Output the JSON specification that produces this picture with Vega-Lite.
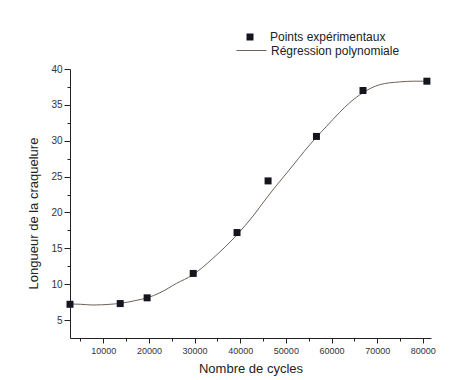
{
  "$schema": "https://vega.github.io/schema/vega-lite/v6.json",
  "width": 361,
  "height": 269,
  "autosize": {"type": "none"},
  "padding": {"left": 70, "top": 69, "right": 22, "bottom": 42},
  "background": "white",
  "config": {
    "view": {"stroke": null},
    "font": "Liberation Sans",
    "axis": {"domainColor": "#222", "tickColor": "#222", "grid": false, "labelColor": "#333", "titleColor": "#222", "titleFontWeight": "normal", "labelFont": "Liberation Sans", "titleFont": "Liberation Sans"}
  },
  "datasets": {
    "points": [
      {"cycles": 2700, "longueur": 7.2, "serie": "Points expérimentaux"},
      {"cycles": 13700, "longueur": 7.3, "serie": "Points expérimentaux"},
      {"cycles": 19600, "longueur": 8.1, "serie": "Points expérimentaux"},
      {"cycles": 29700, "longueur": 11.5, "serie": "Points expérimentaux"},
      {"cycles": 39300, "longueur": 17.2, "serie": "Points expérimentaux"},
      {"cycles": 46100, "longueur": 24.4, "serie": "Points expérimentaux"},
      {"cycles": 56700, "longueur": 30.6, "serie": "Points expérimentaux"},
      {"cycles": 66900, "longueur": 37.0, "serie": "Points expérimentaux"},
      {"cycles": 80900, "longueur": 38.3, "serie": "Points expérimentaux"}
    ],
    "courbe": [
      {"cycles": 2700, "longueur": 7.25, "courbe": "Régression polynomiale"},
      {"cycles": 5000, "longueur": 7.2, "courbe": "Régression polynomiale"},
      {"cycles": 7750, "longueur": 7.1, "courbe": "Régression polynomiale"},
      {"cycles": 11500, "longueur": 7.2, "courbe": "Régression polynomiale"},
      {"cycles": 13900, "longueur": 7.35, "courbe": "Régression polynomiale"},
      {"cycles": 16900, "longueur": 7.7, "courbe": "Régression polynomiale"},
      {"cycles": 19600, "longueur": 8.1, "courbe": "Régression polynomiale"},
      {"cycles": 22400, "longueur": 8.8, "courbe": "Régression polynomiale"},
      {"cycles": 26000, "longueur": 10.1, "courbe": "Régression polynomiale"},
      {"cycles": 29600, "longueur": 11.3, "courbe": "Régression polynomiale"},
      {"cycles": 34000, "longueur": 13.6, "courbe": "Régression polynomiale"},
      {"cycles": 39300, "longueur": 16.9, "courbe": "Régression polynomiale"},
      {"cycles": 42800, "longueur": 19.5, "courbe": "Régression polynomiale"},
      {"cycles": 45750, "longueur": 22.0, "courbe": "Régression polynomiale"},
      {"cycles": 48500, "longueur": 24.2, "courbe": "Régression polynomiale"},
      {"cycles": 51600, "longueur": 26.6, "courbe": "Régression polynomiale"},
      {"cycles": 54000, "longueur": 28.5, "courbe": "Régression polynomiale"},
      {"cycles": 56700, "longueur": 30.5, "courbe": "Régression polynomiale"},
      {"cycles": 58900, "longueur": 32.0, "courbe": "Régression polynomiale"},
      {"cycles": 61700, "longueur": 33.9, "courbe": "Régression polynomiale"},
      {"cycles": 64000, "longueur": 35.3, "courbe": "Régression polynomiale"},
      {"cycles": 66900, "longueur": 36.7, "courbe": "Régression polynomiale"},
      {"cycles": 70500, "longueur": 37.8, "courbe": "Régression polynomiale"},
      {"cycles": 74900, "longueur": 38.2, "courbe": "Régression polynomiale"},
      {"cycles": 78000, "longueur": 38.3, "courbe": "Régression polynomiale"},
      {"cycles": 80900, "longueur": 38.3, "courbe": "Régression polynomiale"}
    ]
  },
  "resolve": {"axis": {"x": "independent", "y": "independent"}},
  "layer": [
    {
      "data": {"name": "courbe"},
      "mark": {"type": "line", "strokeWidth": 1, "interpolate": "monotone"},
      "encoding": {
        "x": {"field": "cycles", "type": "quantitative", "scale": {"domain": [2700, 81800], "nice": false, "zero": false},
          "axis": {"orient": "bottom", "values": [10000, 20000, 30000, 40000, 50000, 60000, 70000, 80000], "format": "d", "tickSize": 5, "labelFontSize": 9, "labelPadding": 3, "title": "Nombre de cycles", "titleFontSize": 13, "titlePadding": 7}},
        "y": {"field": "longueur", "type": "quantitative", "scale": {"domain": [2.5, 40], "nice": false, "zero": false},
          "axis": {"orient": "left", "values": [5, 10, 15, 20, 25, 30, 35, 40], "tickSize": 6, "labelFontSize": 10, "labelPadding": 2, "title": "Longueur de la craquelure", "titleFontSize": 13, "titlePadding": 10, "titleY": 144}},
        "stroke": {"field": "courbe", "type": "nominal", "scale": {"range": ["#6e6259"]},
          "legend": {"title": null, "orient": "none", "legendX": 166, "legendY": -34, "padding": 0, "symbolType": "stroke", "symbolSize": 900, "symbolStrokeWidth": 1, "labelFontSize": 12, "labelColor": "#222", "labelOffset": 4, "labelFont": "Liberation Sans"}}
      }
    },
    {
      "data": {"name": "points"},
      "mark": {"type": "point", "filled": true, "size": 49, "opacity": 1, "color": "#15151f"},
      "encoding": {
        "x": {"field": "cycles", "type": "quantitative",
          "axis": {"orient": "bottom", "values": [5000, 15000, 25000, 35000, 45000, 55000, 65000, 75000], "labels": false, "domain": false, "tickSize": 3, "title": null}},
        "y": {"field": "longueur", "type": "quantitative",
          "axis": {"orient": "left", "values": [7.5, 12.5, 17.5, 22.5, 27.5, 32.5, 37.5], "labels": false, "domain": false, "tickSize": 3, "title": null}},
        "shape": {"field": "serie", "type": "nominal", "scale": {"range": ["square"]},
          "legend": {"title": null, "orient": "none", "legendX": 174, "legendY": -38, "padding": 0, "symbolSize": 49, "symbolFillColor": "#15151f", "symbolStrokeColor": "#15151f", "symbolStrokeWidth": 0, "labelFontSize": 12, "labelColor": "#222", "labelOffset": 14, "labelFont": "Liberation Sans"}}
      }
    }
  ]
}
